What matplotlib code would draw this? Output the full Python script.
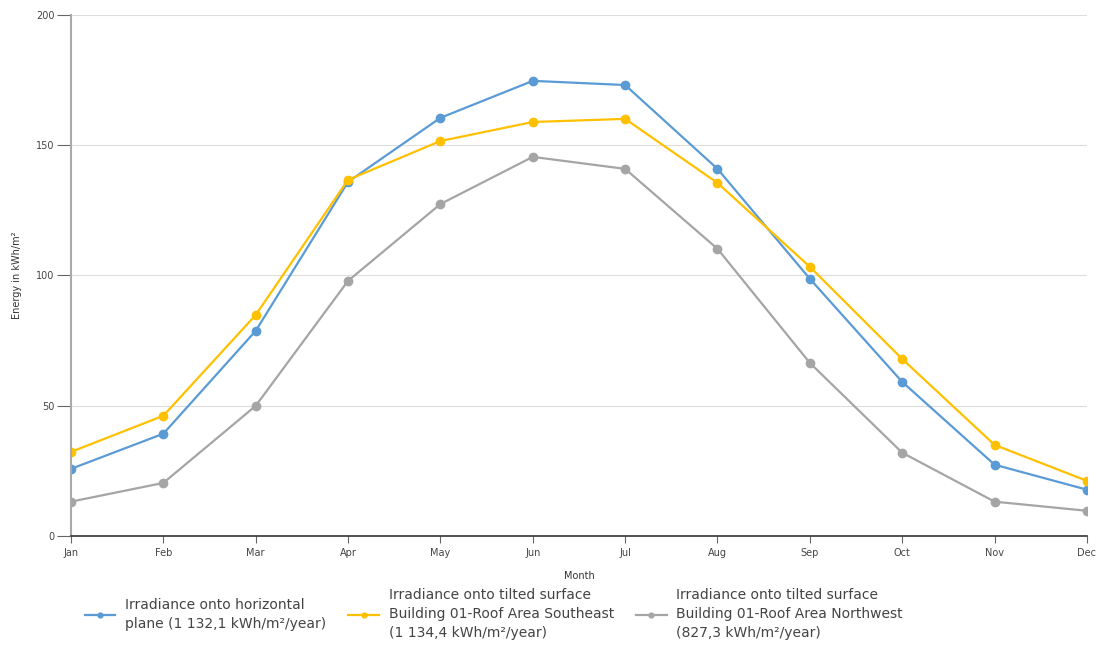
import numpy as np
import matplotlib.pyplot as plt

months = ['Jan', 'Feb', 'Mar', 'Apr', 'May', 'Jun', 'Jul', 'Aug', 'Sep', 'Oct', 'Nov', 'Dec']
horizontal = [25.7, 39.2, 78.7, 135.9, 160.5, 174.7, 173.1, 140.9, 98.7, 59.1, 27.3, 17.7]
southeast = [32.2, 46.1, 84.8, 136.7, 151.6, 158.9, 160.1, 135.5, 103.3, 67.9, 34.9, 21.1]
northwest = [13.1, 20.3, 49.9, 97.9, 127.4, 145.5, 140.9, 110.2, 66.4, 31.9, 13.1, 9.6]
labels = ['Irradiance onto horizontal\nplane (1 132,1 kWh/m²/year)',
          'Irradiance onto tilted surface\nBuilding 01-Roof Area Southeast\n(1 134,4 kWh/m²/year)',
          'Irradiance onto tilted surface\nBuilding 01-Roof Area Northwest\n(827,3 kWh/m²/year)']
colors = ['#5B9BD5', '#FFC000', '#A5A5A5']

fig = plt.figure(figsize=(10.99, 6.51), dpi=100)
ax = fig.add_axes([0.0646, 0.177, 0.9244, 0.800])

x = np.arange(len(months))
for vals, c in zip([horizontal, southeast, northwest], colors):
    ax.plot(x, vals, '-o', color=c, lw=1.6, ms=6)

ax.set_xlim(0, 11)
ax.set_ylim(0, 200)
ax.set_xticks(x)
ax.set_xticklabels(months)
ax.set_yticks([0, 50, 100, 150, 200])
ax.yaxis.grid(True, color='#DDDDDD', lw=0.8)
ax.set_axisbelow(True)
for s in ['top', 'right']:
    ax.spines[s].set_visible(False)
ax.spines['left'].set_color('#AAAAAA')
ax.spines['left'].set_linewidth(1.5)
ax.spines['bottom'].set_color('#333333')
ax.spines['bottom'].set_linewidth(1.2)
ax.tick_params(axis='y', length=10, color='#666666', labelsize=7, labelcolor='#444444', pad=2)
ax.tick_params(axis='x', length=5, color='#666666', labelsize=7, labelcolor='#444444')
ax.set_xlabel('Month', fontsize=7, color='#333333', labelpad=10)
ax.set_ylabel('Energy in kWh/m²', fontsize=7, color='#333333')
ax.yaxis.set_label_coords(-0.048, 0.5)

handles = []
for c in colors:
    h, = ax.plot([], [], '-o', color=c, lw=1.6, ms=3.5)
    handles.append(h)
leg = fig.legend(handles, labels, loc='upper left', bbox_to_anchor=(0.072, 0.105),
                 ncol=3, frameon=False, fontsize=10, handlelength=2.2, handletextpad=0.7,
                 columnspacing=1.6, labelcolor='#444444', borderaxespad=0)
for t in leg.get_texts():
    t.set_linespacing(1.45)

plt.savefig('out.png')
